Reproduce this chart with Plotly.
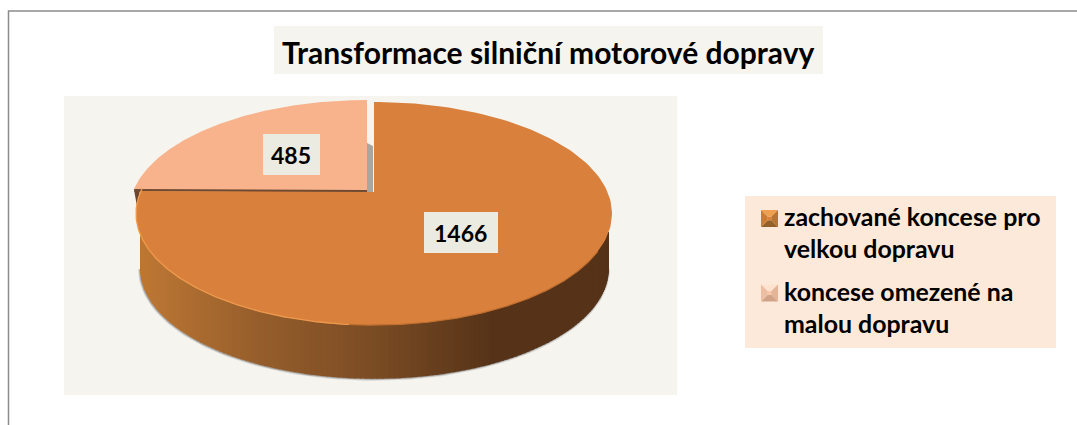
import numpy as np
import plotly.graph_objects as go

# ── Data ───────────────────────────────────────────────────────────────────────

title = "Transformace silniční motorové dopravy"
legend_lines = [["zachované koncese pro", "velkou dopravu"], ["koncese omezené na", "malou dopravu"]]
values = [1466, 485]

# ── Style ──────────────────────────────────────────────────────────────────────

W, H = 1077, 425
FONT = "Lato"
BIG, SMALL = "#d9813c", "#f8b38d"
PANEL, LABEL_BG, LEGEND_BG = "#f5f4ef", "#ecebe1", "#fde9d9"

# pie geometry in page pixels (perspective disc)
CX, CY = 374, 192
R, K, C = 233.5, 107.4, 0.193
DEPTH, BOTTOM_SCALE = 56, 0.983
EXPLODE = (-7, -2)


def disc(theta, dx=0, dy=0, scale=1.0):
    u, v = np.cos(theta), np.sin(theta)
    return (CX + dx + scale * R * u / (1 + C * v),
            CY + dy - scale * K * v / (1 + C * v))


def arc(a0, a1, n=160, **kw):
    return disc(np.linspace(a0, a1, n), **kw)


def wedge(a0, a1, dx=0, dy=0):
    x, y = arc(a0, a1, dx=dx, dy=dy)
    return np.r_[CX + dx, x, CX + dx], np.r_[CY + dy, y, CY + dy]


def poly(x, y, color):
    return go.Scatter(x=x, y=y, mode="lines", fill="toself", fillcolor=color,
                      line=dict(width=0), hoverinfo="skip", showlegend=False)


def line(x, y, color, width):
    return go.Scatter(x=x, y=y, mode="lines", line=dict(color=color, width=width),
                      hoverinfo="skip", showlegend=False)


def rect(x0, y0, x1, y1, color):
    return dict(type="rect", x0=x0, y0=y0, x1=x1, y1=y1, fillcolor=color,
                line=dict(width=0), layer="below", xref="x", yref="y")


fig = go.Figure()

# ── Side wall ──────────────────────────────────────────────────────────────────

edge = np.arcsin(C)
bx, by = arc(np.pi + edge, 2 * np.pi - edge, n=140, dy=DEPTH, scale=BOTTOM_SCALE)

# soft shadow round the wall
fig.add_trace(line(bx, by, "rgba(110,110,110,0.22)", 4))
fig.add_trace(line(bx, by, "rgba(110,110,110,0.45)", 2))

stop_pos = [0.0, 0.25, 0.5, 0.75, 1.0]
stop_r = [190, 150, 122, 86, 86]
stop_g = [120, 94, 76, 51, 51]
stop_b = [52, 44, 36, 24, 24]
for i in range(len(bx) - 1):
    t = (bx[i] - bx[0]) / (bx[-1] - bx[0])
    rgb = [int(np.interp(t, stop_pos, s)) for s in (stop_r, stop_g, stop_b)]
    # strips overlap their neighbour so no seams show
    xs = [bx[i], bx[i], bx[i + 1] + 1, bx[i + 1] + 1, bx[i]]
    ys = [CY + 40, by[i], by[min(i + 1, len(by) - 1)], CY + 40, CY + 40]
    fig.add_trace(poly(xs, ys, f"rgb({rgb[0]},{rgb[1]},{rgb[2]})"))

# ── Slices ─────────────────────────────────────────────────────────────────────

total = sum(values)
start = np.pi / 2
big_end = start - 2 * np.pi * values[0] / total
small_end = big_end - 2 * np.pi * values[1] / total

# light slice: thin dark rim below its front edge, then the top face
sdx, sdy = EXPLODE
corner_x, corner_y = disc(big_end, dx=sdx, dy=sdy)
fig.add_trace(poly([corner_x, corner_x + 6, corner_x + 3, corner_x],
                   [corner_y, corner_y + 2, corner_y + 17, corner_y], "#6b452c"))
sx, sy = wedge(big_end, small_end, dx=sdx, dy=sdy)
fig.add_trace(poly(sx, sy + 2.5, "#6f4a33"))
fig.add_trace(poly(sx, sy, SMALL))

# grey inner wall in the gap between the slices
fig.add_trace(poly([CX + sdx, CX - 1, CX - 1, CX + sdx, CX + sdx],
                   [CY - 49, CY - 46, CY, CY, CY - 49], "#a6a6a2"))

bx0, by0 = wedge(start, big_end)
fig.add_trace(poly(bx0, by0, BIG))

# bevel on the rim of the big slice
rx, ry = arc(np.radians(-30), np.radians(-100))
fig.add_trace(line(rx, ry, "#c06f30", 1.2))
rx, ry = arc(np.radians(178), np.radians(265))
fig.add_trace(line(rx, ry, "#ee9a4e", 1.3))

# ── Boxes, frame, legend squares ───────────────────────────────────────────────

shapes = [
    rect(274, 26, 823, 74, PANEL),
    rect(64, 96, 677, 395, PANEL),
    rect(745, 196, 1056, 348, LEGEND_BG),
    dict(type="path", path=f"M 8.5 {H} L 8.5 11 L {W} 11", xref="x", yref="y",
         line=dict(color="#8c8c8c", width=1.5), layer="below"),
    dict(type="rect", x0=424, y0=212, x1=498, y1=253, xref="x", yref="y",
         fillcolor=LABEL_BG, line=dict(width=0), layer="above"),
    dict(type="rect", x0=263, y0=134, x1=320, y1=175, xref="x", yref="y",
         fillcolor=LABEL_BG, line=dict(width=0), layer="above"),
]

# top, left, right, bottom, centre
marker_cols = [["#ef9f50", "#c87c38", "#b87330", "#94602a", "#d9813c"],
               ["#fde3d0", "#ecbfa3", "#e4b498", "#d0a388", "#f8c4a6"]]
marker_y = [218.5, 293]
s = 8.5
for my, cols in zip(marker_y, marker_cols):
    mx = 769.5
    i = s * 0.2
    outer = [(mx - s, my - s), (mx + s, my - s), (mx + s, my + s), (mx - s, my + s)]
    inner = [(mx - i, my - i), (mx + i, my - i), (mx + i, my + i), (mx - i, my + i)]
    for k in range(4):
        a, b = outer[k], outer[(k + 1) % 4]
        c, d = inner[(k + 1) % 4], inner[k]
        fig.add_trace(poly([a[0], b[0], c[0], d[0], a[0]], [a[1], b[1], c[1], d[1], a[1]], cols[[0, 2, 3, 1][k]]))
    fig.add_trace(poly([p[0] for p in inner + inner[:1]], [p[1] for p in inner + inner[:1]], cols[4]))

# ── Text ───────────────────────────────────────────────────────────────────────

annotations = [
    dict(x=548.5, y=52, text=f"<b>{title}</b>", font=dict(size=30, color="#000000")),
    dict(x=460.5, y=232.5, text=f"<b>{values[0]}</b>", font=dict(size=23, color="#000000")),
    dict(x=290.5, y=155, text=f"<b>{values[1]}</b>", font=dict(size=23, color="#000000")),
]
legend_y = [[216, 248], [291, 323]]
for lines, ys in zip(legend_lines, legend_y):
    for txt, ly in zip(lines, ys):
        annotations.append(dict(x=782, y=ly, text=f"<b>{txt}</b>", xanchor="left",
                                font=dict(size=24.9, color="#000000")))
for a in annotations:
    a.update(xref="x", yref="y", showarrow=False)

fig.update_layout(
    width=W, height=H, autosize=False,
    margin=dict(l=0, r=0, t=0, b=0, pad=0),
    paper_bgcolor="#ffffff", plot_bgcolor="#ffffff",
    font=dict(family=FONT),
    xaxis=dict(range=[0, W], visible=False, fixedrange=True),
    yaxis=dict(range=[H, 0], visible=False, fixedrange=True),
    showlegend=False,
    shapes=shapes,
    annotations=annotations,
)

fig.write_html("out.html", config=dict(displayModeBar=False),
               post_script="document.body.style.margin='0';")
